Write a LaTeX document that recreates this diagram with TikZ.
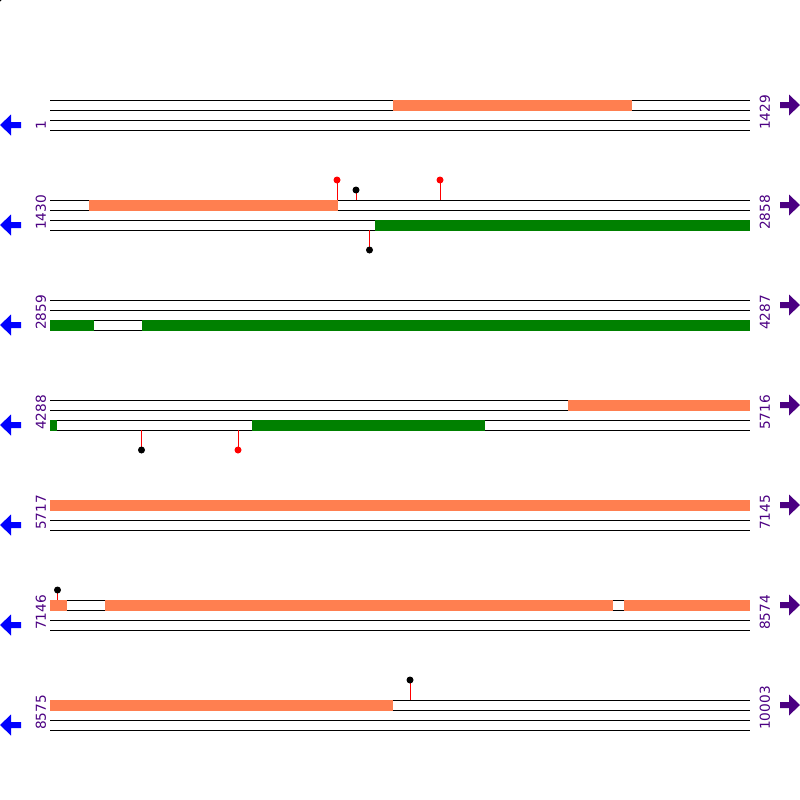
\documentclass[tikz,border=0pt]{standalone}
\usepackage{fontspec}
\setmainfont{DejaVu Sans}
\definecolor{orangebar}{HTML}{FF7F50}
\definecolor{greenbar}{HTML}{008000}
\definecolor{lab}{HTML}{4B0082}
\definecolor{leftarr}{HTML}{0000FF}
\begin{document}
\begin{tikzpicture}[x=1pt,y=-1pt,
  track/.style={draw=black,line width=1pt},
  obar/.style={fill=orangebar},
  gbar/.style={fill=greenbar},
  lbl/.style={text=lab,rotate=90,anchor=west,inner sep=0pt,font=\fontsize{13.7}{14}\selectfont},
  larrow/.style={fill=leftarr},
  rarrow/.style={fill=lab},
  stick/.style={draw=red,line width=1pt},
  dotr/.style={circle,fill=red,inner sep=0pt,minimum size=7pt},
  dotk/.style={circle,fill=black,inner sep=0pt,minimum size=7pt}]
\useasboundingbox (0,0) rectangle (800,800);
% tracks, labels, arrows
\foreach \r/\a/\b in {0/1/1429,1/1430/2858,2/2859/4287,3/4288/5716,4/5717/7145,5/7146/8574,6/8575/10003}{
  \pgfmathsetmacro{\yo}{100+100*\r}
  \foreach \k in {0,10,20,30}{
    \draw[track] (50,\yo+\k) -- (750,\yo+\k);
  }
  \node[lbl] (L\r) at (41,\yo+30) {\a};
  \node[lbl] (R\r) at (765,\yo+30) {\b};
  \fill[larrow] (0,\yo+25) -- (11,\yo+14.5) -- (11,\yo+22) -- (21,\yo+22) -- (21,\yo+28) -- (11,\yo+28) -- (11,\yo+35.5) -- cycle;
  \fill[rarrow] (800,\yo+5) -- (789,\yo-5.5) -- (789,\yo+2) -- (780,\yo+2) -- (780,\yo+8) -- (789,\yo+8) -- (789,\yo+15.5) -- cycle;
}
% bars
\fill[obar] (393,99.5) rectangle (632,110.5);
\fill[obar] (89,199.5) rectangle (338,210.5);
\fill[gbar] (375,219.5) rectangle (750,230.5);
\fill[gbar] (50,319.5) rectangle (94,330.5);
\fill[gbar] (142,319.5) rectangle (750,330.5);
\fill[obar] (568,399.5) rectangle (750,410.5);
\fill[gbar] (50,419.5) rectangle (57,430.5);
\fill[gbar] (252,419.5) rectangle (485,430.5);
\fill[obar] (50,499.5) rectangle (750,510.5);
\fill[obar] (50,599.5) rectangle (67,610.5);
\fill[obar] (105,599.5) rectangle (613,610.5);
\fill[obar] (624,599.5) rectangle (750,610.5);
\fill[obar] (50,699.5) rectangle (393,710.5);
% lollipops
\foreach \n/\x/\ya/\yb/\s in {p1/337/200/180/dotr, p2/356/200/190/dotk, p3/440/200/180/dotr, p4/369.5/230/250/dotk, p5/141.5/430/450/dotk, p6/238/430/450/dotr, p7/57.5/600/590/dotk, p8/410/700/680/dotk}{
  \coordinate (\n b) at (\x,\yb);
  \coordinate (\n a) at (\x,\ya);
  \draw[stick] (\n a) -- (\n b);
  \node[\s] (\n) at (\n b) {};
}
\node[dotk] (corner) at (-1.5,-1.5) {};
\end{tikzpicture}
\end{document}
